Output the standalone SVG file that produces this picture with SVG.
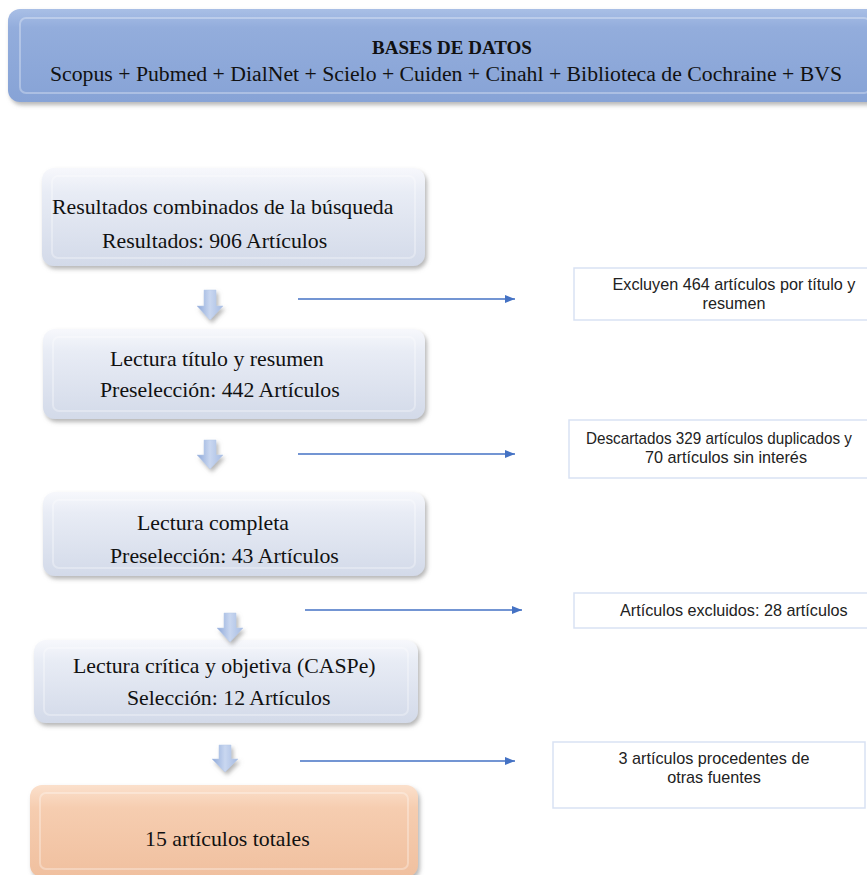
<svg xmlns="http://www.w3.org/2000/svg" width="867" height="875" viewBox="0 0 867 875">
<defs>
<linearGradient id="gBlue" x1="0" y1="0" x2="0" y2="1"><stop offset="0" stop-color="#a9bfe6"/><stop offset="0.2" stop-color="#93addc"/><stop offset="1" stop-color="#87a3d6"/></linearGradient>
<linearGradient id="gGrey" x1="0" y1="0" x2="0" y2="1"><stop offset="0" stop-color="#f7f8fc"/><stop offset="0.25" stop-color="#e8ecf5"/><stop offset="1" stop-color="#d3dae9"/></linearGradient>
<linearGradient id="gPeach" x1="0" y1="0" x2="0" y2="1"><stop offset="0" stop-color="#fbe0cc"/><stop offset="0.25" stop-color="#f6cdb0"/><stop offset="1" stop-color="#f0c09f"/></linearGradient>
<linearGradient id="gArrow" x1="0" y1="0" x2="1" y2="0"><stop offset="0" stop-color="#8ea8d8"/><stop offset="0.5" stop-color="#c9d7f0"/><stop offset="1" stop-color="#a6bbe2"/></linearGradient>
<filter id="sh" x="-10%" y="-10%" width="120%" height="130%"><feDropShadow dx="2" dy="3" stdDeviation="2" flood-color="#7a7a7a" flood-opacity="0.55"/></filter>
<marker id="ah" markerWidth="10" markerHeight="8" refX="10" refY="4" orient="auto" markerUnits="userSpaceOnUse"><path d="M0,0 L10,4 L0,8 z" fill="#4472c4"/></marker>
<style>
.serif{font-family:"Liberation Serif","Times New Roman",serif;fill:#111;font-size:21.8px}
.sans{font-family:"Liberation Sans",Arial,sans-serif;fill:#222;font-size:16.2px}
.side{fill:#fff;stroke:#d9e2f3;stroke-width:1.5}
.conn{stroke:#4472c4;stroke-width:1.5;fill:none}
.bevel{fill:none;stroke:#ffffff;stroke-opacity:0.3;stroke-width:2}
.barrow{fill:url(#gArrow);stroke:#b7c8e8;stroke-width:0.5}
</style>
</defs>
<rect width="867" height="875" fill="#ffffff"/>

<g id="bases">
<rect x="8" y="9" width="875" height="93" rx="12" fill="url(#gBlue)" filter="url(#sh)"/>
<rect x="20" y="18" width="850" height="75" rx="6" class="bevel"/>
<text x="452" y="54" text-anchor="middle" class="serif" style="font-weight:bold;font-size:19px">BASES DE DATOS</text>
<text x="50" y="81" class="serif" style="font-size:20px" textLength="792" lengthAdjust="spacingAndGlyphs">Scopus + Pubmed + DialNet + Scielo + Cuiden + Cinahl + Biblioteca de Cochraine + BVS</text>
</g>

<g id="n1">
<rect x="42" y="168" width="383" height="98" rx="12" fill="url(#gGrey)" filter="url(#sh)"/>
<rect x="52" y="176" width="363" height="82" rx="6" class="bevel"/>
<text x="52" y="214" class="serif">Resultados combinados de la búsqueda</text>
<text x="102" y="248" class="serif">Resultados: 906 Artículos</text>
</g>

<g id="n2">
<rect x="43" y="329" width="382" height="90" rx="12" fill="url(#gGrey)" filter="url(#sh)"/>
<rect x="53" y="337" width="362" height="74" rx="6" class="bevel"/>
<text x="110" y="366" class="serif">Lectura título y resumen</text>
<text x="100" y="397" class="serif">Preselección: 442 Artículos</text>
</g>

<g id="n3">
<rect x="43" y="492" width="382" height="84" rx="12" fill="url(#gGrey)" filter="url(#sh)"/>
<rect x="53" y="500" width="362" height="68" rx="6" class="bevel"/>
<text x="137" y="530" class="serif">Lectura completa</text>
<text x="110" y="563" class="serif">Preselección: 43 Artículos</text>
</g>

<g id="n4">
<rect x="34" y="640" width="384" height="83" rx="12" fill="url(#gGrey)" filter="url(#sh)"/>
<rect x="44" y="648" width="364" height="67" rx="6" class="bevel"/>
<text x="73" y="673" class="serif">Lectura crítica y objetiva (CASPe)</text>
<text x="127" y="705" class="serif">Selección: 12 Artículos</text>
</g>

<g id="n5">
<rect x="30" y="785" width="388" height="92" rx="12" fill="url(#gPeach)" filter="url(#sh)"/>
<rect x="40" y="793" width="368" height="76" rx="6" class="bevel"/>
<text x="145" y="846" class="serif">15 artículos totales</text>
</g>

<g id="sideA">
<rect x="574" y="268" width="300" height="52" class="side"/>
<text x="734" y="290" text-anchor="middle" class="sans">Excluyen 464 artículos por título y</text>
<text x="734" y="309" text-anchor="middle" class="sans">resumen</text>
</g>

<g id="sideB">
<rect x="569" y="420" width="305" height="58" class="side"/>
<text x="586" y="444" class="sans" textLength="266" lengthAdjust="spacingAndGlyphs">Descartados 329 artículos duplicados y</text>
<text x="726" y="463" text-anchor="middle" class="sans">70 artículos sin interés</text>
</g>

<g id="sideC">
<rect x="574" y="593" width="300" height="35" class="side"/>
<text x="620" y="616" class="sans">Artículos excluidos: 28 artículos</text>
</g>

<g id="sideD">
<rect x="553" y="742" width="312" height="66" class="side"/>
<text x="714" y="764" text-anchor="middle" class="sans">3 artículos procedentes de</text>
<text x="714" y="783" text-anchor="middle" class="sans">otras fuentes</text>
</g>

<g id="connectors">
<g filter="url(#sh)">
<path class="barrow" d="M204,290 H216 V306 H223 L210,320 L197,306 H204 Z"/>
<path class="barrow" d="M204,440 H216 V455 H223 L210,469 L197,455 H204 Z"/>
<path class="barrow" d="M224,613 H236 V628 H243 L230,642 L217,628 H224 Z"/>
<path class="barrow" d="M219,745 H231 V759 H238 L225,772 L212,759 H219 Z"/>
</g>
<line class="conn" x1="298" y1="299" x2="515" y2="299" marker-end="url(#ah)"/>
<line class="conn" x1="298" y1="454" x2="515" y2="454" marker-end="url(#ah)"/>
<line class="conn" x1="305" y1="610" x2="522" y2="610" marker-end="url(#ah)"/>
<line class="conn" x1="300" y1="761" x2="515" y2="761" marker-end="url(#ah)"/>
</g>
</svg>
